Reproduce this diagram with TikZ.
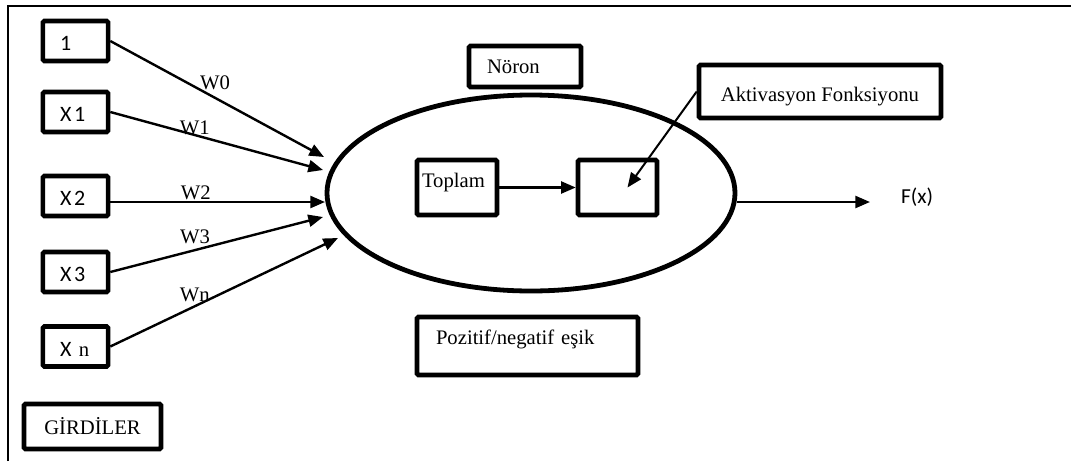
\documentclass[tikz,border=0pt]{standalone}
\usepackage{fontspec}
\setmainfont{Liberation Serif}
\newfontfamily\inputfont[LetterSpace=12]{Carlito}
\newfontfamily\labelsans{Carlito}
\usetikzlibrary{arrows.meta,shapes.geometric,calc}

\begin{document}
\begin{tikzpicture}[x=0.75pt,y=-0.75pt,
  every node/.style={font=\fontsize{15.5}{18}\selectfont},
  box/.style={draw, line width=3.4pt, rounded corners=1pt, inner sep=0pt},
  inbox/.style={box, minimum width=48.75pt, minimum height=30pt,
    text width=23pt, inner xsep=12.9pt, align=left,
    text height=14.5pt, text depth=0pt, font=\fontsize{16.5}{18}\inputfont},
  wlabel/.style={inner sep=0pt},
  arr/.style={line width=1.8pt, -{Triangle[length=11pt,width=9pt]}},
  frame/.style={line width=1.6pt}
]
\useasboundingbox (0,0) rectangle (1071,461);

% outer frame (top and left sides)
\draw[frame] (8,461) -- (8,6) -- (1071,6);

% inputs
\node[inbox] (in0) at (75.5,41)    {1};
\node[inbox] (in1) at (75.5,112)   {X1};
\node[inbox] (in2) at (75.5,196)   {X2};
\node[inbox] (in3) at (75.5,272)   {X3};
\node[inbox] (inn) at (75.5,346.5) {X {\rmfamily\fontsize{15.5}{18}\selectfont n}};
\node[box, minimum width=102.75pt, minimum height=33.75pt] (girdi) at (92.5,426.5) {GİRDİLER};

% neuron body
\node[draw, ellipse, line width=3.6pt, inner sep=0pt,
      minimum width=306pt, minimum height=147pt] (neuron) at (531,193) {};
\node[box, minimum width=84pt, minimum height=30.75pt, text width=57pt,
      inner xsep=13.5pt, align=left] (noron) at (525,66.5) {Nöron};
\node[box, minimum width=60pt, minimum height=41.25pt, text width=52.5pt,
      inner xsep=3.5pt, align=left, text height=10.5pt, text depth=10.5pt] (toplam) at (457,187.5) {Toplam};
\node[box, minimum width=59.25pt, minimum height=41.25pt] (act) at (617.5,187.5) {};
\node[box, minimum width=181.5pt, minimum height=39.75pt,
      text height=18pt, text depth=3.3pt] (akt) at (820,91.5) {Aktivasyon Fonksiyonu};
\node[box, minimum width=165.75pt, minimum height=43.5pt, text width=137.25pt,
      inner xsep=14.25pt, align=left, text height=11pt, text depth=14pt] (esik) at (527.5,346) {Pozitif/negatif eşik};

% output
\node[inner sep=0pt, font=\fontsize{16}{18}\labelsans] (fx) at (917,197) {F(x)};

% arrow tips at the neuron
\coordinate (t0) at (324,157);
\coordinate (t1) at (323,170);
\coordinate (t2) at (325,202);
\coordinate (t3) at (323,217);
\coordinate (tn) at (338,238);
\coordinate (out) at (870,202);

% weighted input connections
\draw[arr] (in0.east) -- (t0);
\draw[arr] (in1.east) -- (t1);
\draw[arr] (in2.east |- t2) -- (t2);
\draw[arr] (in3.east) -- (t3);
\draw[arr] (inn.east) -- (tn);

\node[wlabel] (w0) at (215,83)    {W0};
\node[wlabel] (w1) at (194.7,127.5) {W1};
\node[wlabel] (w2) at (195.8,192.5) {W2};
\node[wlabel] (w3) at (195,236.7) {W3};
\node[wlabel] (wn) at (194.7,295) {Wn};

% inside the neuron
\draw[arr] (toplam.east) -- (act.west);
\draw[arr, line width=1.5pt] (akt.west) -- ($(act.center)+(10,0)$);

% output connection
\draw[arr] (neuron.east |- out) -- (out);
\end{tikzpicture}
\end{document}
